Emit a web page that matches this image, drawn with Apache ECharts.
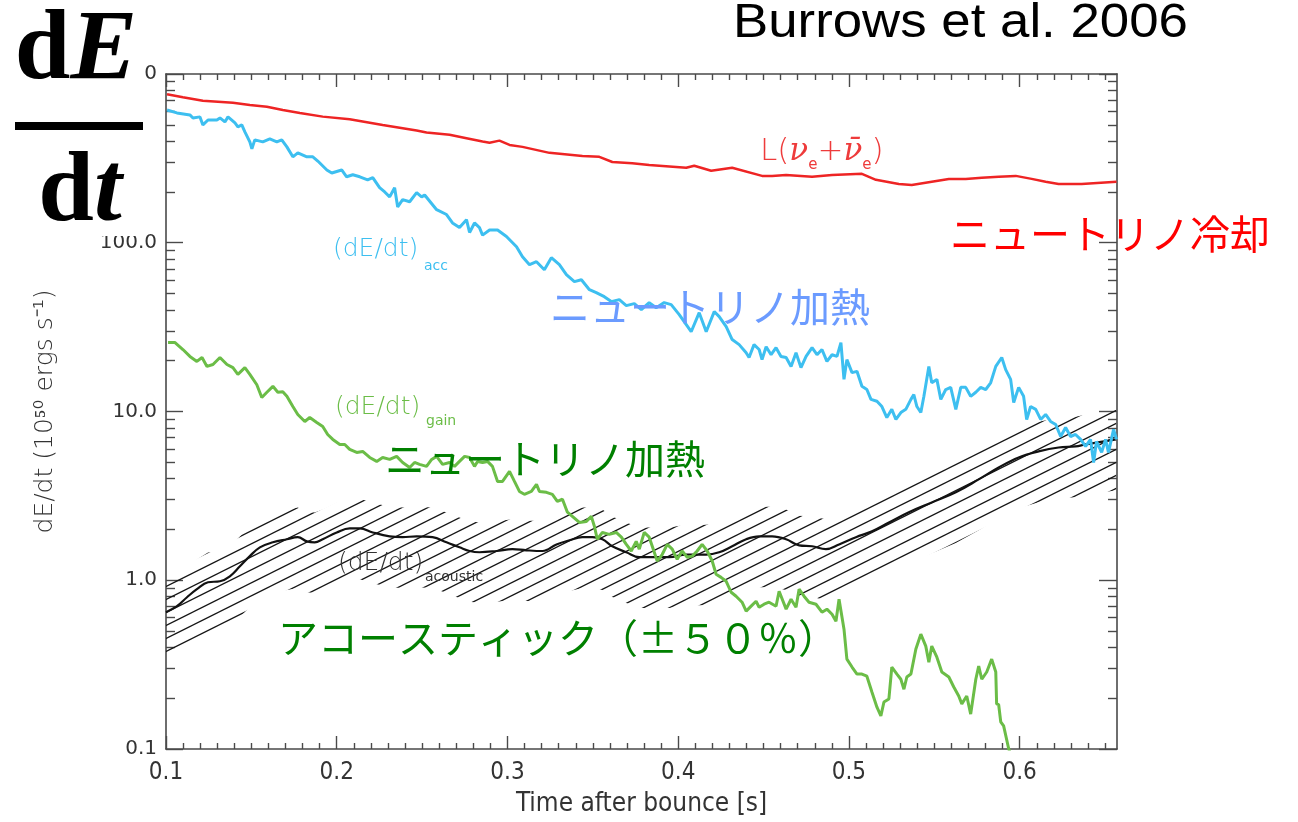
<!DOCTYPE html>
<html>
<head>
<meta charset="utf-8">
<title>dE/dt</title>
<script src="https://cdn.jsdelivr.net/npm/echarts@6/dist/echarts.min.js"></script>
<style>
html,body{margin:0;padding:0;background:#fff;}
#chart{width:1298px;height:822px;}
</style>
</head>
<body>
<div id="chart"></div>
<script>
// Energy rates after core bounce, units of 1e50 erg/s, time in seconds.
// Each entry: [time after bounce, dE/dt]

// neutrino cooling luminosity L(nu_e + anti-nu_e)
const coolingLum = [
  [0.1006,759],[0.1099,728],[0.1216,695],[0.1392,676],[0.1491,656],[0.1591,640],[0.1684,612],
  [0.1784,588],[0.1918,559],[0.2076,539],[0.2269,499],[0.2468,462],[0.2526,450],[0.2661,436],
  [0.2760,416],[0.2854,398],[0.2895,391],[0.2953,403],[0.3012,380],[0.3088,370],[0.3246,341],
  [0.3439,327],[0.3538,323],[0.3614,301],[0.3731,296],[0.3830,289],[0.4047,278],[0.4094,286],
  [0.4193,267],[0.4316,278],[0.4491,249],[0.4550,249],[0.4632,252],[0.4784,246],[0.4901,252],
  [0.5076,256],[0.5158,236],[0.5292,223],[0.5368,220],[0.5485,230],[0.5585,239],[0.5684,239],
  [0.5778,243],[0.5877,246],[0.5977,249],[0.6070,239],[0.6152,230],[0.6228,223],[0.6363,223],
  [0.6567,230]
];

// (dE/dt)_acc : neutrino heating of the accreted matter
const heatingAcc = [
  [0.1006,612],[0.1064,588],[0.1140,572],[0.1158,549],[0.1199,557],[0.1216,499],[0.1246,534],
  [0.1298,534],[0.1316,549],[0.1345,520],[0.1363,557],[0.1404,513],[0.1421,486],[0.1444,499],
  [0.1462,454],[0.1491,396],[0.1503,360],[0.1520,407],[0.1567,396],[0.1608,412],[0.1649,396],
  [0.1678,407],[0.1708,370],[0.1743,323],[0.1772,341],[0.1825,323],[0.1860,323],[0.1889,305],
  [0.1942,270],[0.1971,259],[0.2029,270],[0.2058,246],[0.2094,253],[0.2135,246],[0.2181,236],
  [0.2211,243],[0.2251,212],[0.2281,200],[0.2310,187],[0.2339,212],[0.2357,163],[0.2386,180],
  [0.2427,175],[0.2468,198],[0.2497,187],[0.2515,192],[0.2585,157],[0.2643,147],[0.2678,131],
  [0.2719,123],[0.2760,137],[0.2778,115],[0.2807,131],[0.2836,123],[0.2854,111],[0.2895,119],
  [0.2942,119],[0.2994,109],[0.3053,94.7],[0.3088,82.6],[0.3129,74.1],[0.3170,77.2],[0.3216,69.2],
  [0.3257,81.5],[0.3304,74.1],[0.3345,64.7],[0.3392,58.8],[0.3433,60.4],[0.3480,52.7],[0.3520,50.6],
  [0.3567,47.9],[0.3608,44.8],[0.3655,46.0],[0.3696,42.4],[0.3743,43.6],[0.3784,40.1],[0.3830,44.2],
  [0.3871,41.2],[0.3918,44.2],[0.3959,43.0],[0.4006,37.5],[0.4076,29.7],[0.4123,38.5],[0.4164,29.7],
  [0.4211,39.1],[0.4240,36.5],[0.4281,31.8],[0.4316,26.7],[0.4357,24.9],[0.4398,22.3],[0.4415,20.9],
  [0.4444,24.9],[0.4474,23.3],[0.4491,20.3],[0.4515,24.2],[0.4544,21.7],[0.4573,23.9],[0.4602,21.2],
  [0.4632,20.9],[0.4661,18.5],[0.4690,22.3],[0.4719,18.2],[0.4749,21.2],[0.4784,23.9],[0.4813,21.7],
  [0.4842,23.3],[0.4871,19.8],[0.4901,21.7],[0.4930,21.2],[0.4953,25.6],[0.4971,15.5],[0.4988,20.3],
  [0.5018,17.0],[0.5047,17.3],[0.5076,14.1],[0.5105,13.5],[0.5129,11.8],[0.5164,11.5],[0.5193,10.7],
  [0.5222,9.21],[0.5251,10.3],[0.5275,8.97],[0.5304,9.86],[0.5333,10.3],[0.5363,11.8],[0.5380,12.6],
  [0.5398,10.7],[0.5421,9.86],[0.5439,12.3],[0.5468,18.5],[0.5485,14.8],[0.5515,15.5],[0.5538,11.8],
  [0.5567,13.5],[0.5596,13.9],[0.5626,10.3],[0.5655,13.9],[0.5684,13.9],[0.5713,12.3],[0.5743,13.0],
  [0.5772,13.9],[0.5801,13.5],[0.5830,14.8],[0.5860,18.5],[0.5895,20.9],[0.5918,17.7],[0.5947,15.5],
  [0.5965,11.3],[0.5994,13.9],[0.6023,12.3],[0.6041,8.97],[0.6064,10.7],[0.6094,10.3],[0.6123,8.97],
  [0.6152,9.60],[0.6181,8.73],[0.6211,8.38],[0.6240,7.11],[0.6269,8.04],[0.6298,7.11],[0.6327,7.31],
  [0.6357,6.83],[0.6386,6.21],[0.6415,6.83],[0.6433,4.99],[0.6450,6.64],[0.6480,5.72],[0.6503,6.83],
  [0.6520,5.72],[0.6550,7.83],[0.6567,6.83]
];

// (dE/dt)_gain : net neutrino heating in the gain region
const heatingGain = [
  [0.1012,25.6],[0.1053,25.6],[0.1099,23.3],[0.1140,21.2],[0.1181,19.8],[0.1211,20.9],[0.1240,18.5],
  [0.1275,19.0],[0.1316,20.9],[0.1357,19.0],[0.1392,18.2],[0.1421,16.6],[0.1462,18.2],[0.1491,16.6],
  [0.1532,14.4],[0.1561,12.1],[0.1591,13.0],[0.1626,14.1],[0.1655,13.0],[0.1684,13.1],[0.1708,12.3],
  [0.1743,10.7],[0.1772,9.60],[0.1813,8.73],[0.1842,9.21],[0.1883,8.61],[0.1918,8.15],[0.1947,7.31],
  [0.1977,6.83],[0.2018,6.38],[0.2047,6.38],[0.2076,5.96],[0.2117,5.72],[0.2152,5.80],[0.2193,5.34],
  [0.2234,5.06],[0.2269,5.34],[0.2310,5.20],[0.2351,5.42],[0.2386,4.99],[0.2427,4.66],[0.2456,4.99],
  [0.2485,4.86],[0.2526,4.73],[0.2556,5.20],[0.2585,5.42],[0.2620,4.86],[0.2661,4.99],[0.2690,4.73],
  [0.2719,5.06],[0.2749,5.42],[0.2778,5.34],[0.2807,4.73],[0.2825,5.06],[0.2854,4.99],[0.2883,5.06],
  [0.2912,4.73],[0.2942,3.85],[0.2971,3.85],[0.3012,4.42],[0.3041,3.85],[0.3070,3.36],[0.3099,3.23],
  [0.3140,3.36],[0.3170,3.70],[0.3187,3.36],[0.3228,3.32],[0.3263,3.23],[0.3292,2.93],[0.3322,3.02],
  [0.3351,2.53],[0.3380,2.39],[0.3421,2.20],[0.3462,2.23],[0.3491,2.39],[0.3509,2.09],[0.3526,1.75],
  [0.3556,1.92],[0.3596,1.87],[0.3637,1.92],[0.3667,1.80],[0.3696,1.63],[0.3725,1.49],[0.3754,1.70],
  [0.3772,1.53],[0.3801,1.92],[0.3830,1.80],[0.3848,1.59],[0.3877,1.30],[0.3906,1.42],[0.3936,1.63],
  [0.3965,1.53],[0.3994,1.33],[0.4023,1.49],[0.4053,1.37],[0.4082,1.39],[0.4111,1.49],[0.4140,1.63],
  [0.4170,1.49],[0.4199,1.30],[0.4222,1.085],[0.4251,1.04],[0.4281,0.986],[0.4310,0.849],[0.4339,0.804],
  [0.4374,0.741],[0.4398,0.656],[0.4427,0.702],[0.4456,0.751],[0.4474,0.692],[0.4503,0.721],[0.4532,0.741],
  [0.4573,0.702],[0.4591,0.861],[0.4632,0.674],[0.4661,0.772],[0.4690,0.692],[0.4708,0.885],[0.4737,0.804],
  [0.4766,0.741],[0.4807,0.721],[0.4842,0.647],[0.4871,0.674],[0.4901,0.629],[0.4924,0.572],[0.4942,0.772],
  [0.4971,0.513],[0.4988,0.341],[0.5018,0.306],[0.5047,0.278],[0.5076,0.278],[0.5105,0.270],[0.5135,0.217],
  [0.5164,0.177],[0.5187,0.157],[0.5205,0.190],[0.5234,0.198],[0.5251,0.306],[0.5281,0.278],[0.5304,0.259],
  [0.5322,0.226],[0.5339,0.267],[0.5363,0.278],[0.5392,0.391],[0.5421,0.479],[0.5450,0.407],[0.5468,0.327],
  [0.5485,0.407],[0.5515,0.350],[0.5544,0.286],[0.5585,0.267],[0.5614,0.233],[0.5643,0.206],[0.5661,0.185],
  [0.5690,0.206],[0.5713,0.161],[0.5743,0.259],[0.5760,0.310],[0.5778,0.259],[0.5807,0.286],[0.5836,0.341],
  [0.5860,0.286],[0.5865,0.185],[0.5877,0.183],[0.5889,0.145],[0.5906,0.137],[0.5936,0.100],[0.5960,0.085]
];

// (dE/dt)_acoustic : acoustic power (band drawn at +-50 %)
const acousticPower = [
  [0.1000,0.647],[0.1064,0.702],[0.1123,0.793],[0.1181,0.885],[0.1246,0.973],[0.1316,0.986],[0.1374,1.056],
  [0.1433,1.21],[0.1491,1.39],[0.1550,1.567],[0.1626,1.678],[0.1708,1.75],[0.1772,1.80],[0.1825,1.70],
  [0.1871,1.678],[0.1918,1.75],[0.2000,1.92],[0.2076,2.03],[0.2135,2.03],[0.2211,1.92],[0.2310,1.82],
  [0.2386,1.80],[0.2468,1.82],[0.2561,1.80],[0.2643,1.678],[0.2719,1.567],[0.2778,1.49],[0.2836,1.465],
  [0.2936,1.49],[0.3029,1.53],[0.3111,1.505],[0.3205,1.49],[0.3287,1.63],[0.3363,1.725],[0.3439,1.80],
  [0.3497,1.80],[0.3556,1.75],[0.3614,1.59],[0.3696,1.465],[0.3772,1.37],[0.3848,1.37],[0.3947,1.37],
  [0.4047,1.42],[0.4164,1.42],[0.4240,1.465],[0.4316,1.59],[0.4398,1.75],[0.4474,1.82],[0.4550,1.82],
  [0.4632,1.75],[0.4708,1.61],[0.4784,1.59],[0.4865,1.53],[0.4942,1.63],[0.5041,1.80],[0.5135,1.95],
  [0.5234,2.20],[0.5351,2.53],[0.5485,2.89],[0.5626,3.32],[0.5760,3.96],[0.5877,4.66],[0.5994,5.34],
  [0.6111,5.80],[0.6228,6.12],[0.6327,6.21],[0.6386,6.38],[0.6565,6.83]
];
const acousticSpread = 0.5;   // "(±50%)"

// axes
const timeRange = [0.1, 0.657];
const timeTicks = [0.1, 0.2, 0.3, 0.4, 0.5, 0.6];
const rateDecades = [0.1, 1, 10, 100, 1000];

// minor tick positions: every 0.01 s, and 2..9 inside each decade
const timeMinor = [];
for (let i = 11; i <= 65; i++) if (i % 10 !== 0) timeMinor.push(i / 100);
const rateMinorLog = [];
rateDecades.slice(0, -1).forEach(d => {
  for (let k = 2; k <= 9; k++) rateMinorLog.push(Math.log10(k * d));
});
const logRange = [Math.log10(rateDecades[0]), Math.log10(rateDecades[rateDecades.length - 1])];

// diagonal hatching tile for the acoustic band
function hatchTile() {
  const w = 26, h = 13;
  const c = document.createElement('canvas');
  c.width = w; c.height = h;
  const g = c.getContext('2d');
  g.strokeStyle = '#161616';
  g.lineWidth = 1.3;
  for (let k = -1; k <= 2; k++) {
    const c0 = h / 2 + k * h;
    g.beginPath();
    g.moveTo(-2, c0 + 1);
    g.lineTo(w + 2, c0 - (w + 2) / 2);
    g.stroke();
  }
  return c;
}
const hatch = hatchTile();

const axisColor = '#4a4a4a';
const frameLine = { show: true, onZero: false, lineStyle: { color: axisColor, width: 1.6 } };
const noLine = { show: false, onZero: false };
const tickLine = { color: axisColor, width: 1.4 };
const noSplit = { show: false };
const labelFont = 'DejaVu Sans';
const narrowFont = '"Liberation Sans Narrow", "DejaVu Sans Condensed", "Liberation Sans", sans-serif';

function tickAxis(base, extra) {
  return Object.assign({
    axisLine: noLine,
    splitLine: noSplit,
    axisLabel: { show: false }
  }, base, extra);
}

const xBase = { type: 'value', min: timeRange[0], max: timeRange[1] };
const yLogBase = { type: 'log', logBase: 10, min: rateDecades[0], max: rateDecades[rateDecades.length - 1] };
const yLinBase = { type: 'value', min: logRange[0], max: logRange[1] };

const chart = echarts.init(document.getElementById('chart'), null, { renderer: 'canvas', width: 1298, height: 822 });

const subStyle = (color) => ({ fontSize: 15, fontFamily: labelFont, fill: color, verticalAlign: 'bottom' });

const option = {
  animation: false,
  backgroundColor: '#ffffff',
  grid: { left: 166, right: 181, top: 74, bottom: 72, containLabel: false },
  xAxis: [
    Object.assign({}, xBase, {
      position: 'bottom',
      axisLine: frameLine,
      splitLine: noSplit,
      axisTick: { show: true, inside: true, length: 13, lineStyle: tickLine, customValues: timeTicks },
      axisLabel: {
        customValues: timeTicks, margin: 12, color: '#333', fontSize: 24, fontFamily: narrowFont,
        formatter: v => v.toFixed(1)
      },
      name: 'Time after bounce [s]',
      nameLocation: 'middle',
      nameGap: 42,
      nameTextStyle: { color: '#333', fontSize: 26, fontFamily: narrowFont }
    }),
    tickAxis(xBase, { position: 'bottom', axisTick: { show: true, inside: true, length: 6, lineStyle: tickLine, customValues: timeMinor } }),
    tickAxis(xBase, { position: 'top', axisLine: frameLine, axisTick: { show: true, inside: true, length: 13, lineStyle: tickLine, customValues: timeTicks } }),
    tickAxis(xBase, { position: 'top', axisTick: { show: true, inside: true, length: 6, lineStyle: tickLine, customValues: timeMinor } })
  ],
  yAxis: [
    Object.assign({}, yLogBase, {
      position: 'left',
      axisLine: frameLine,
      splitLine: noSplit,
      minorTick: { show: false },
      axisTick: { show: true, inside: true, length: 17, lineStyle: tickLine },
      axisLabel: {
        margin: 9, color: '#333', fontSize: 20, fontFamily: labelFont,
        formatter: v => Number(v).toFixed(1)
      },
      name: 'dE/dt (10⁵⁰ ergs s⁻¹)',
      nameLocation: 'middle',
      nameRotate: 90,
      nameGap: 108,
      nameTextStyle: { color: '#333', fontSize: 25, fontFamily: labelFont, fontWeight: 200 }
    }),
    tickAxis(yLinBase, { position: 'left', axisTick: { show: true, inside: true, length: 9, lineStyle: tickLine, customValues: rateMinorLog } }),
    tickAxis(yLogBase, { position: 'right', axisLine: frameLine, axisTick: { show: true, inside: true, length: 18, lineStyle: tickLine } }),
    tickAxis(yLinBase, { position: 'right', axisTick: { show: true, inside: true, length: 9, lineStyle: tickLine, customValues: rateMinorLog } })
  ],
  series: [
    {
      name: 'acoustic band',
      type: 'custom',
      xAxisIndex: 0, yAxisIndex: 0,
      silent: true,
      z: 1,
      data: acousticPower,
      renderItem(params, api) {
        if (params.dataIndex !== 0) return null;
        const upper = acousticPower.map(p => api.coord([p[0], p[1] * (1 + acousticSpread)]));
        const lower = acousticPower.map(p => api.coord([p[0], p[1] * (1 - acousticSpread)])).reverse();
        return {
          type: 'polygon',
          shape: { points: upper.concat(lower) },
          style: { fill: { image: hatch, repeat: 'repeat' }, stroke: null }
        };
      }
    },
    {
      name: 'acoustic', type: 'line', xAxisIndex: 0, yAxisIndex: 0, data: acousticPower,
      showSymbol: false, smooth: 0.4, z: 3,
      lineStyle: { color: '#111111', width: 2.2 }
    },
    {
      name: 'gain', type: 'line', xAxisIndex: 0, yAxisIndex: 0, data: heatingGain,
      showSymbol: false, z: 4, clip: true,
      lineStyle: { color: '#6bbd47', width: 3 }
    },
    {
      name: 'acc', type: 'line', xAxisIndex: 0, yAxisIndex: 0, data: heatingAcc,
      showSymbol: false, z: 4,
      lineStyle: { color: '#3dbff0', width: 3 }
    },
    {
      name: 'cooling', type: 'line', xAxisIndex: 0, yAxisIndex: 0, data: coolingLum,
      showSymbol: false, z: 4,
      lineStyle: { color: '#ee2424', width: 2.5 }
    }
  ],
  graphic: [
    // big dE/dt fraction in the corner
    { type: 'rect', z: 50, shape: { x: 0, y: 0, width: 145, height: 236 }, style: { fill: '#ffffff' } },
    {
      type: 'text', z: 51, x: 76, y: 52,
      style: {
        text: '{d|d}{e|E}', align: 'center', verticalAlign: 'middle',
        rich: {
          d: { fontSize: 100, fontFamily: '"Liberation Serif", serif', fontWeight: 'bold', fill: '#000' },
          e: { fontSize: 100, fontFamily: '"Liberation Serif", serif', fontWeight: 'bold', fontStyle: 'italic', fill: '#000' }
        }
      }
    },
    { type: 'rect', z: 51, shape: { x: 15, y: 122, width: 128, height: 8 }, style: { fill: '#000' } },
    {
      type: 'text', z: 51, x: 80, y: 194,
      style: {
        text: '{d|d}{t|t}', align: 'center', verticalAlign: 'middle',
        rich: {
          d: { fontSize: 100, fontFamily: '"Liberation Serif", serif', fontWeight: 'bold', fill: '#000' },
          t: { fontSize: 100, fontFamily: '"Liberation Serif", serif', fontWeight: 'bold', fontStyle: 'italic', fill: '#000' }
        }
      }
    },
    // reference
    {
      type: 'text', z: 51, x: 733, y: 24, scaleX: 1.1,
      style: { text: 'Burrows et al. 2006', fontSize: 48, fontFamily: '"Liberation Sans", Arial, sans-serif', fill: '#000', align: 'left', verticalAlign: 'middle' }
    },
    // curve labels
    {
      type: 'text', z: 20, x: 760, y: 152,
      style: {
        text: '{m|L(}{n|ν}{s|e}{m|+}{n|ν̄}{s|e}{m|)}', align: 'left', verticalAlign: 'middle',
        rich: {
          m: { fontSize: 31, fontFamily: labelFont, fontWeight: 200, fill: '#ee3b3b', lineHeight: 42 },
          n: { fontSize: 31, fontFamily: '"DejaVu Serif", serif', fontStyle: 'italic', fill: '#ee3b3b', lineHeight: 42 },
          s: subStyle('#ee3b3b')
        }
      }
    },
    { type: 'text', z: 20, x: 333, y: 249, style: { text: '(dE/dt)', fontSize: 25, fontWeight: 200, fontFamily: labelFont, fill: '#3dbff0', align: 'left', verticalAlign: 'middle' } },
    { type: 'text', z: 20, x: 424, y: 266, style: { text: 'acc', fontSize: 14, fontFamily: labelFont, fill: '#3dbff0', align: 'left', verticalAlign: 'middle' } },
    { type: 'text', z: 20, x: 335, y: 407, style: { text: '(dE/dt)', fontSize: 25, fontWeight: 200, fontFamily: labelFont, fill: '#6bbd47', align: 'left', verticalAlign: 'middle' } },
    { type: 'text', z: 20, x: 426, y: 421, style: { text: 'gain', fontSize: 14, fontFamily: labelFont, fill: '#6bbd47', align: 'left', verticalAlign: 'middle' } },
    { type: 'text', z: 20, x: 338, y: 563, style: { text: '(dE/dt)', fontSize: 25, fontWeight: 200, fontFamily: labelFont, fill: '#333', align: 'left', verticalAlign: 'middle' } },
    { type: 'text', z: 20, x: 425, y: 577, style: { text: 'acoustic', fontSize: 14, fontFamily: labelFont, fill: '#333', align: 'left', verticalAlign: 'middle' } },
    // Japanese annotations
    { type: 'text', z: 30, x: 950, y: 234, style: { text: 'ニュートリノ冷却', fontSize: 40, fontFamily: '"Noto Sans CJK JP", sans-serif', fill: '#ff0000', align: 'left', verticalAlign: 'middle' } },
    { type: 'text', z: 30, x: 550, y: 307, style: { text: 'ニュートリノ加熱', fontSize: 40, fontFamily: '"Noto Sans CJK JP", sans-serif', fill: '#6b9bff', align: 'left', verticalAlign: 'middle' } },
    { type: 'text', z: 30, x: 385, y: 459, style: { text: 'ニュートリノ加熱', fontSize: 40, fontFamily: '"Noto Sans CJK JP", sans-serif', fill: '#008000', align: 'left', verticalAlign: 'middle' } },
    { type: 'text', z: 30, x: 278, y: 638, style: { text: 'アコースティック（±５０％）', fontSize: 40, fontFamily: '"Noto Sans CJK JP", sans-serif', fill: '#008000', align: 'left', verticalAlign: 'middle' } }
  ]
};

chart.setOption(option);
</script>
</body>
</html>
